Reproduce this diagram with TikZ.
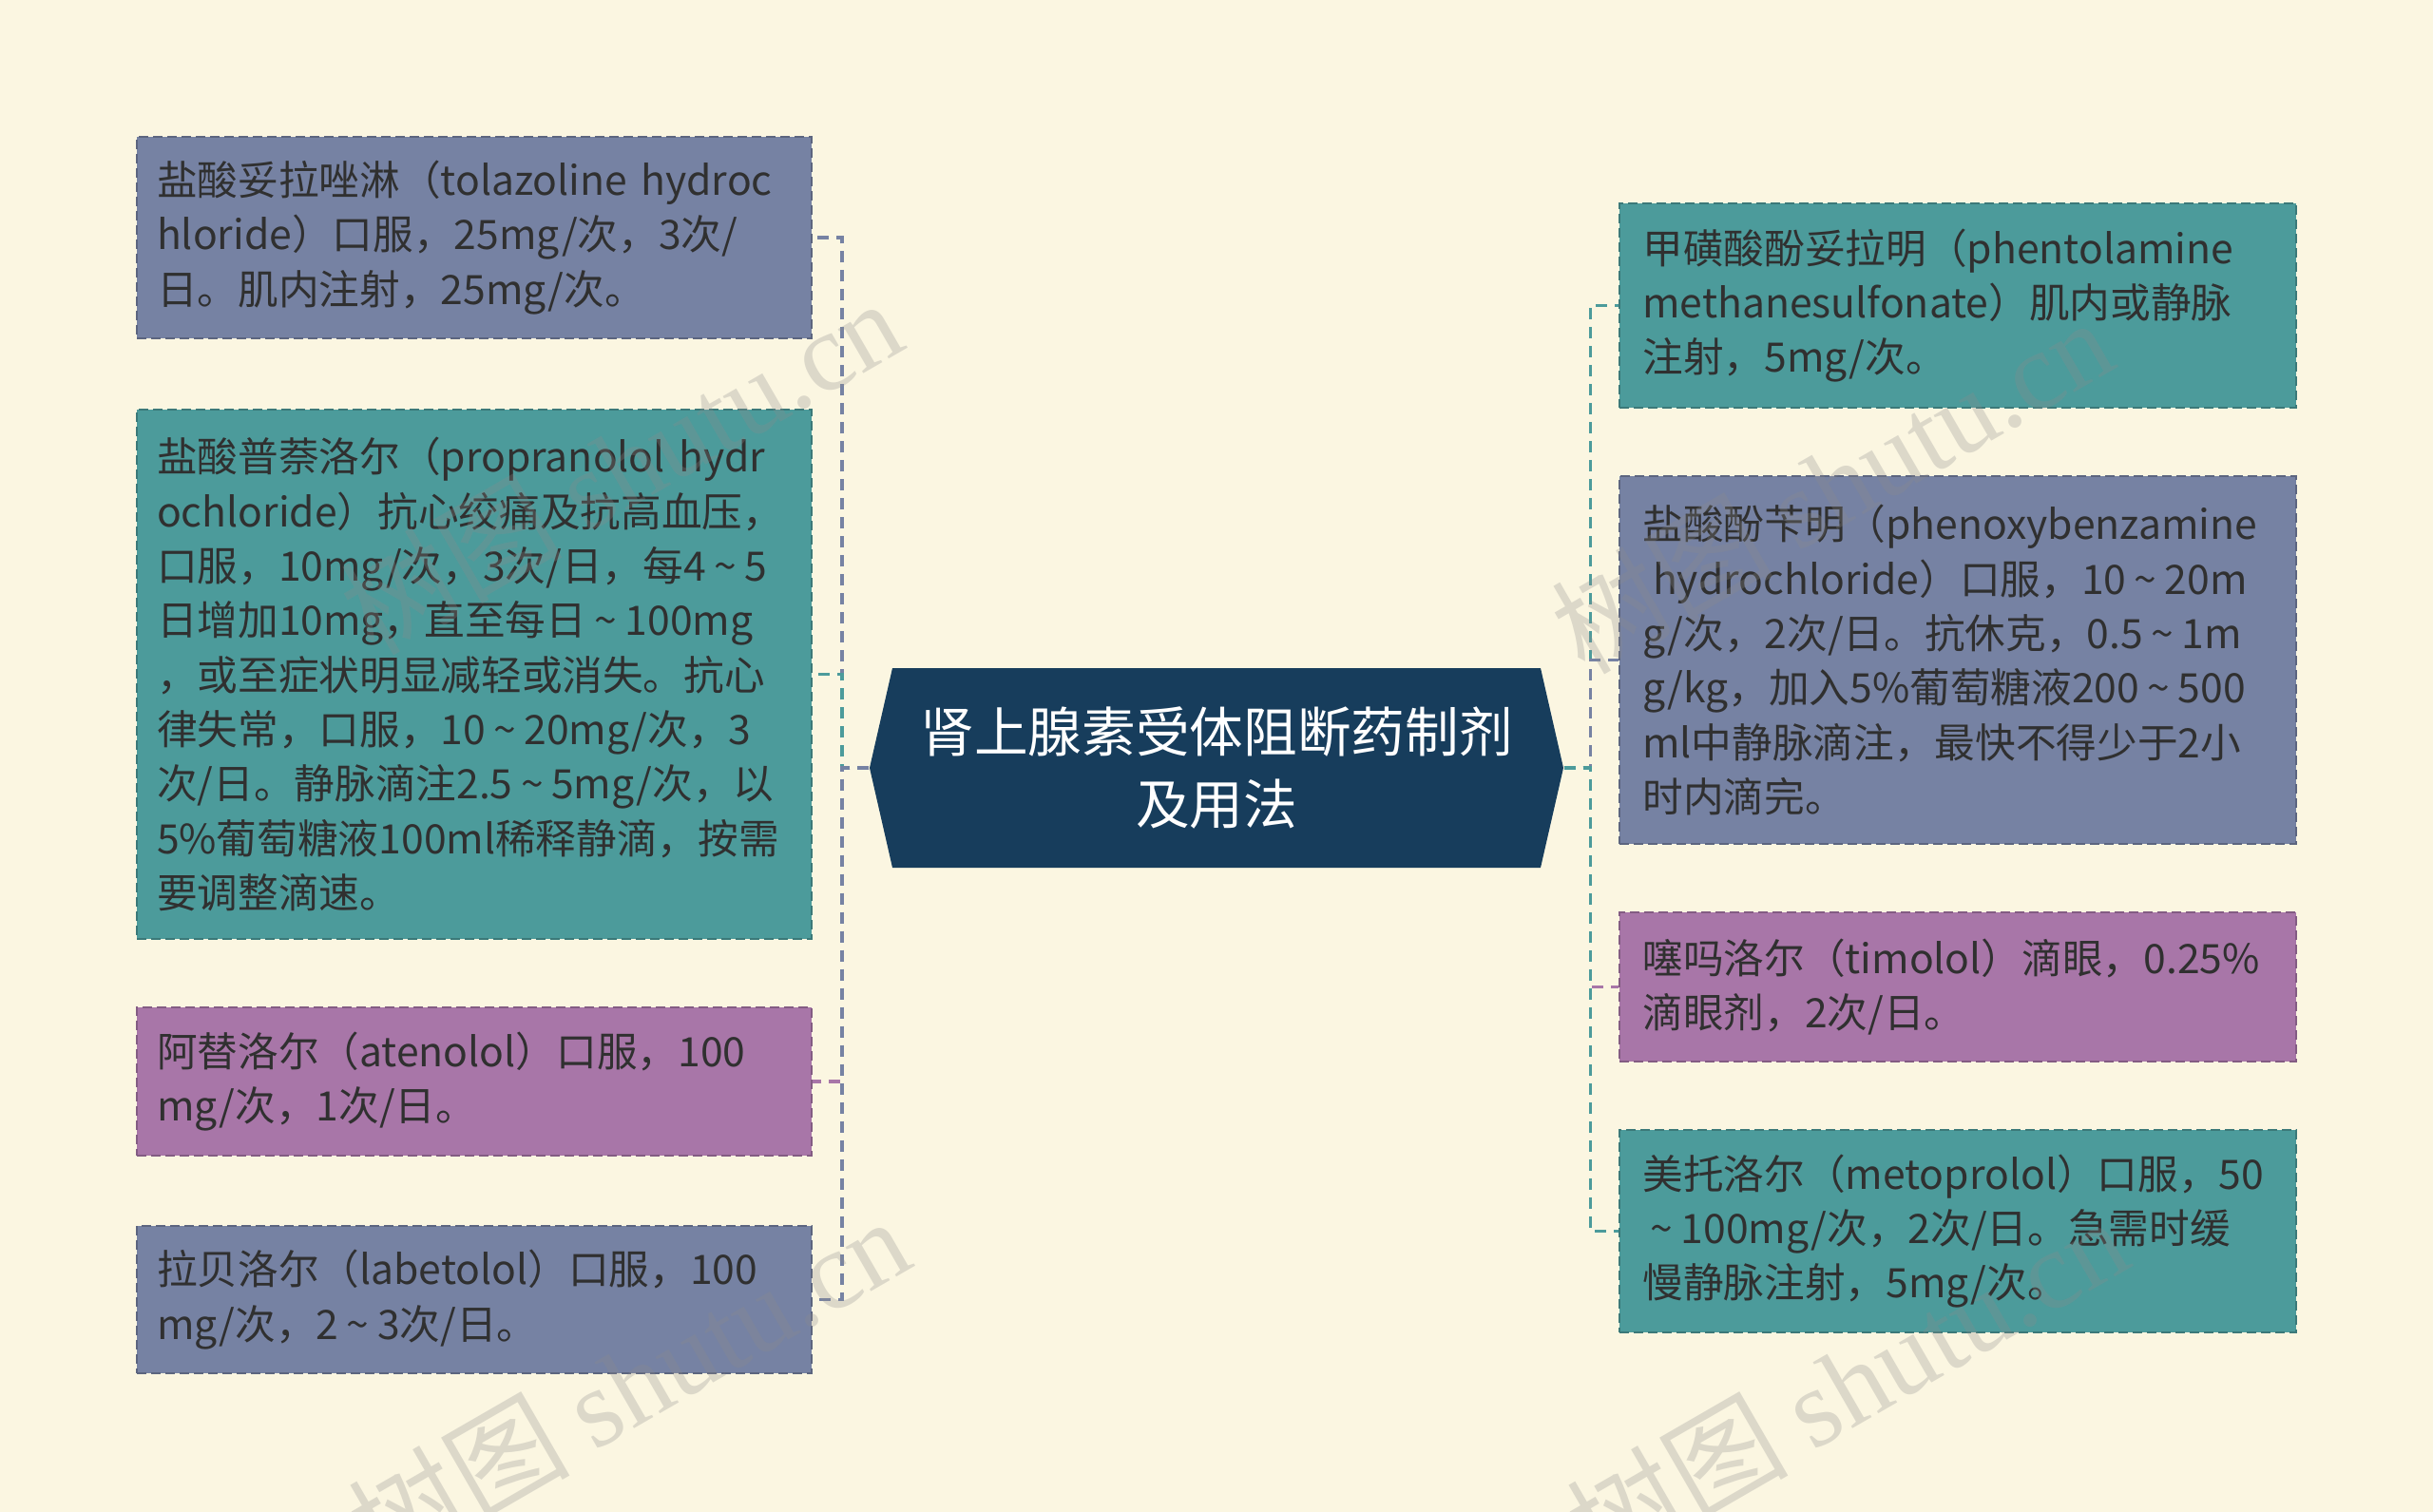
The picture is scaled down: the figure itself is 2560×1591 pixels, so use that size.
\documentclass[tikz,border=0pt]{standalone}
\usepackage{fontspec}
\setmainfont{Noto Sans CJK SC}
\newfontfamily\wmserif{Liberation Serif}
\usetikzlibrary{calc}
\definecolor{cbg}{HTML}{FBF6E1}
\definecolor{cteal}{HTML}{4C9B9B}
\definecolor{cblue}{HTML}{7682A3}
\definecolor{cpurp}{HTML}{A876A8}
\definecolor{croot}{HTML}{173D5C}
\definecolor{ctxt}{HTML}{303030}
\newcommand\wave{\hbox to 0.95em{\hss\textasciitilde\hss}}
\tikzset{
  leafbox/.style={rectangle, draw=#1!78!black, fill=#1, line width=0.6pt,
    dash pattern=on 3pt off 1.5pt, inner ysep=0pt, minimum width=213pt,
    align=left, text=ctxt, font=\fontsize{12.8pt}{17.2pt}\selectfont},
  leftbox/.style={leafbox=#1, inner xsep=6.3pt, text width=200.4pt},
  rightbox/.style={leafbox=#1, inner xsep=7.3pt, text width=199pt, minimum width=213.6pt},
  conn/.style={draw=#1, line width=1pt, dash pattern=on 3.6pt off 2.4pt},
  rootnode/.style={rectangle, inner sep=0pt, minimum width=219pt, minimum height=63pt,
    align=center, text=white, font=\fontsize{17pt}{22.8pt}\selectfont},
  wm/.style={text=black!45, opacity=0.28, font=\fontsize{35pt}{40pt}\selectfont, inner sep=0pt}
}
\begin{document}
\begin{tikzpicture}[x=0.3pt,y=-0.3pt]
\fill[cbg] (0,0) rectangle (2560,1591);
\useasboundingbox (0,0) rectangle (2560,1591);

% root hexagon
\fill[croot] (915,808) -- (939,703) -- (1621,703) -- (1645,808) -- (1621,913) -- (939,913) -- cycle;
\node[rootnode] (root) at (1280,808) {肾上腺素受体阻断药制剂\\及用法};

\coordinate (LJ) at (886,808);
\coordinate (RJ) at (1673.5,808);

% left boxes
\node[leftbox=cblue, minimum height=63.6pt] (L1) at (499,250)
 {\mbox{盐酸妥拉唑淋（tolazoline hydroc}\\\mbox{hloride）口服，25mg/次，3次/}\\\mbox{日。肌内注射，25mg/次。}};
\node[leftbox=cteal, minimum height=167.1pt] (L2) at (499,709.5)
 {\mbox{盐酸普萘洛尔（propranolol hydr}\\\mbox{ochloride）抗心绞痛及抗高血压，}\\\mbox{口服，10mg/次，3次/日，每4\wave5}\\\mbox{日增加10mg，直至每日\wave100mg}\\\mbox{，或至症状明显减轻或消失。抗心}\\\mbox{律失常，口服，10\wave20mg/次，3}\\\mbox{次/日。静脉滴注2.5\wave5mg/次，以}\\\mbox{5\%葡萄糖液100ml稀释静滴，按需}\\\mbox{要调整滴速。}};
\node[leftbox=cpurp, minimum height=46.8pt] (L3) at (499,1138)
 {\mbox{阿替洛尔（atenolol）口服，100}\\\mbox{mg/次，1次/日。}};
\node[leftbox=cblue, minimum height=46.5pt] (L4) at (499,1367.5)
 {\mbox{拉贝洛尔（labetolol）口服，100}\\\mbox{mg/次，2\wave3次/日。}};

% right boxes
\node[rightbox=cteal, minimum height=64.5pt] (R1) at (2060,321.5)
 {\mbox{甲磺酸酚妥拉明（phentolamine}\\\mbox{methanesulfonate）肌内或静脉}\\\mbox{注射，5mg/次。}};
\node[rightbox=cblue, minimum height=116.1pt] (R2) at (2060,694.5)
 {\mbox{盐酸酚苄明（phenoxybenzamine}\\\mbox{\hspace*{0.25em}hydrochloride）口服，10\wave20m}\\\mbox{g/次，2次/日。抗休克，0.5\wave1m}\\\mbox{g/kg，加入5\%葡萄糖液200\wave500}\\\mbox{ml中静脉滴注，最快不得少于2小}\\\mbox{时内滴完。}};
\node[rightbox=cpurp, minimum height=47.1pt] (R3) at (2060,1038.5)
 {\mbox{噻吗洛尔（timolol）滴眼，0.25\%}\\\mbox{滴眼剂，2次/日。}};
\node[rightbox=cteal, minimum height=63.9pt] (R4) at (2060,1295.5)
 {\mbox{美托洛尔（metoprolol）口服，50}\\\mbox{\wave100mg/次，2次/日。急需时缓}\\\mbox{慢静脉注射，5mg/次。}};

% connectors
\draw[conn=cblue] (root.west) -- (LJ) |- (L1.east);
\draw[conn=cteal] (root.west) -- (LJ) |- (L2.east);
\draw[conn=cpurp] (root.west) -- (LJ) |- (L3.east);
\draw[conn=cblue] (root.west) -- (LJ) |- (L4.east);
\draw[conn=cteal] (root.east) -- (RJ) |- (R1.west);
\draw[conn=cblue] (root.east) -- (RJ) |- (R2.west);
\draw[conn=cpurp] (root.east) -- (RJ) |- (R3.west);
\draw[conn=cteal] (root.east) -- (RJ) |- (R4.west);

% watermarks
\node[wm, rotate=30] (wm1) at (653,490) {树图 {\wmserif shutu.cn}};
\node[wm, rotate=30] (wm2) at (1927,510) {树图 {\wmserif shutu.cn}};
\node[wm, rotate=30] (wm3) at (661,1456) {树图 {\wmserif shutu.cn}};
\node[wm, rotate=30] (wm4) at (1943,1456) {树图 {\wmserif shutu.cn}};
\end{tikzpicture}
\end{document}
